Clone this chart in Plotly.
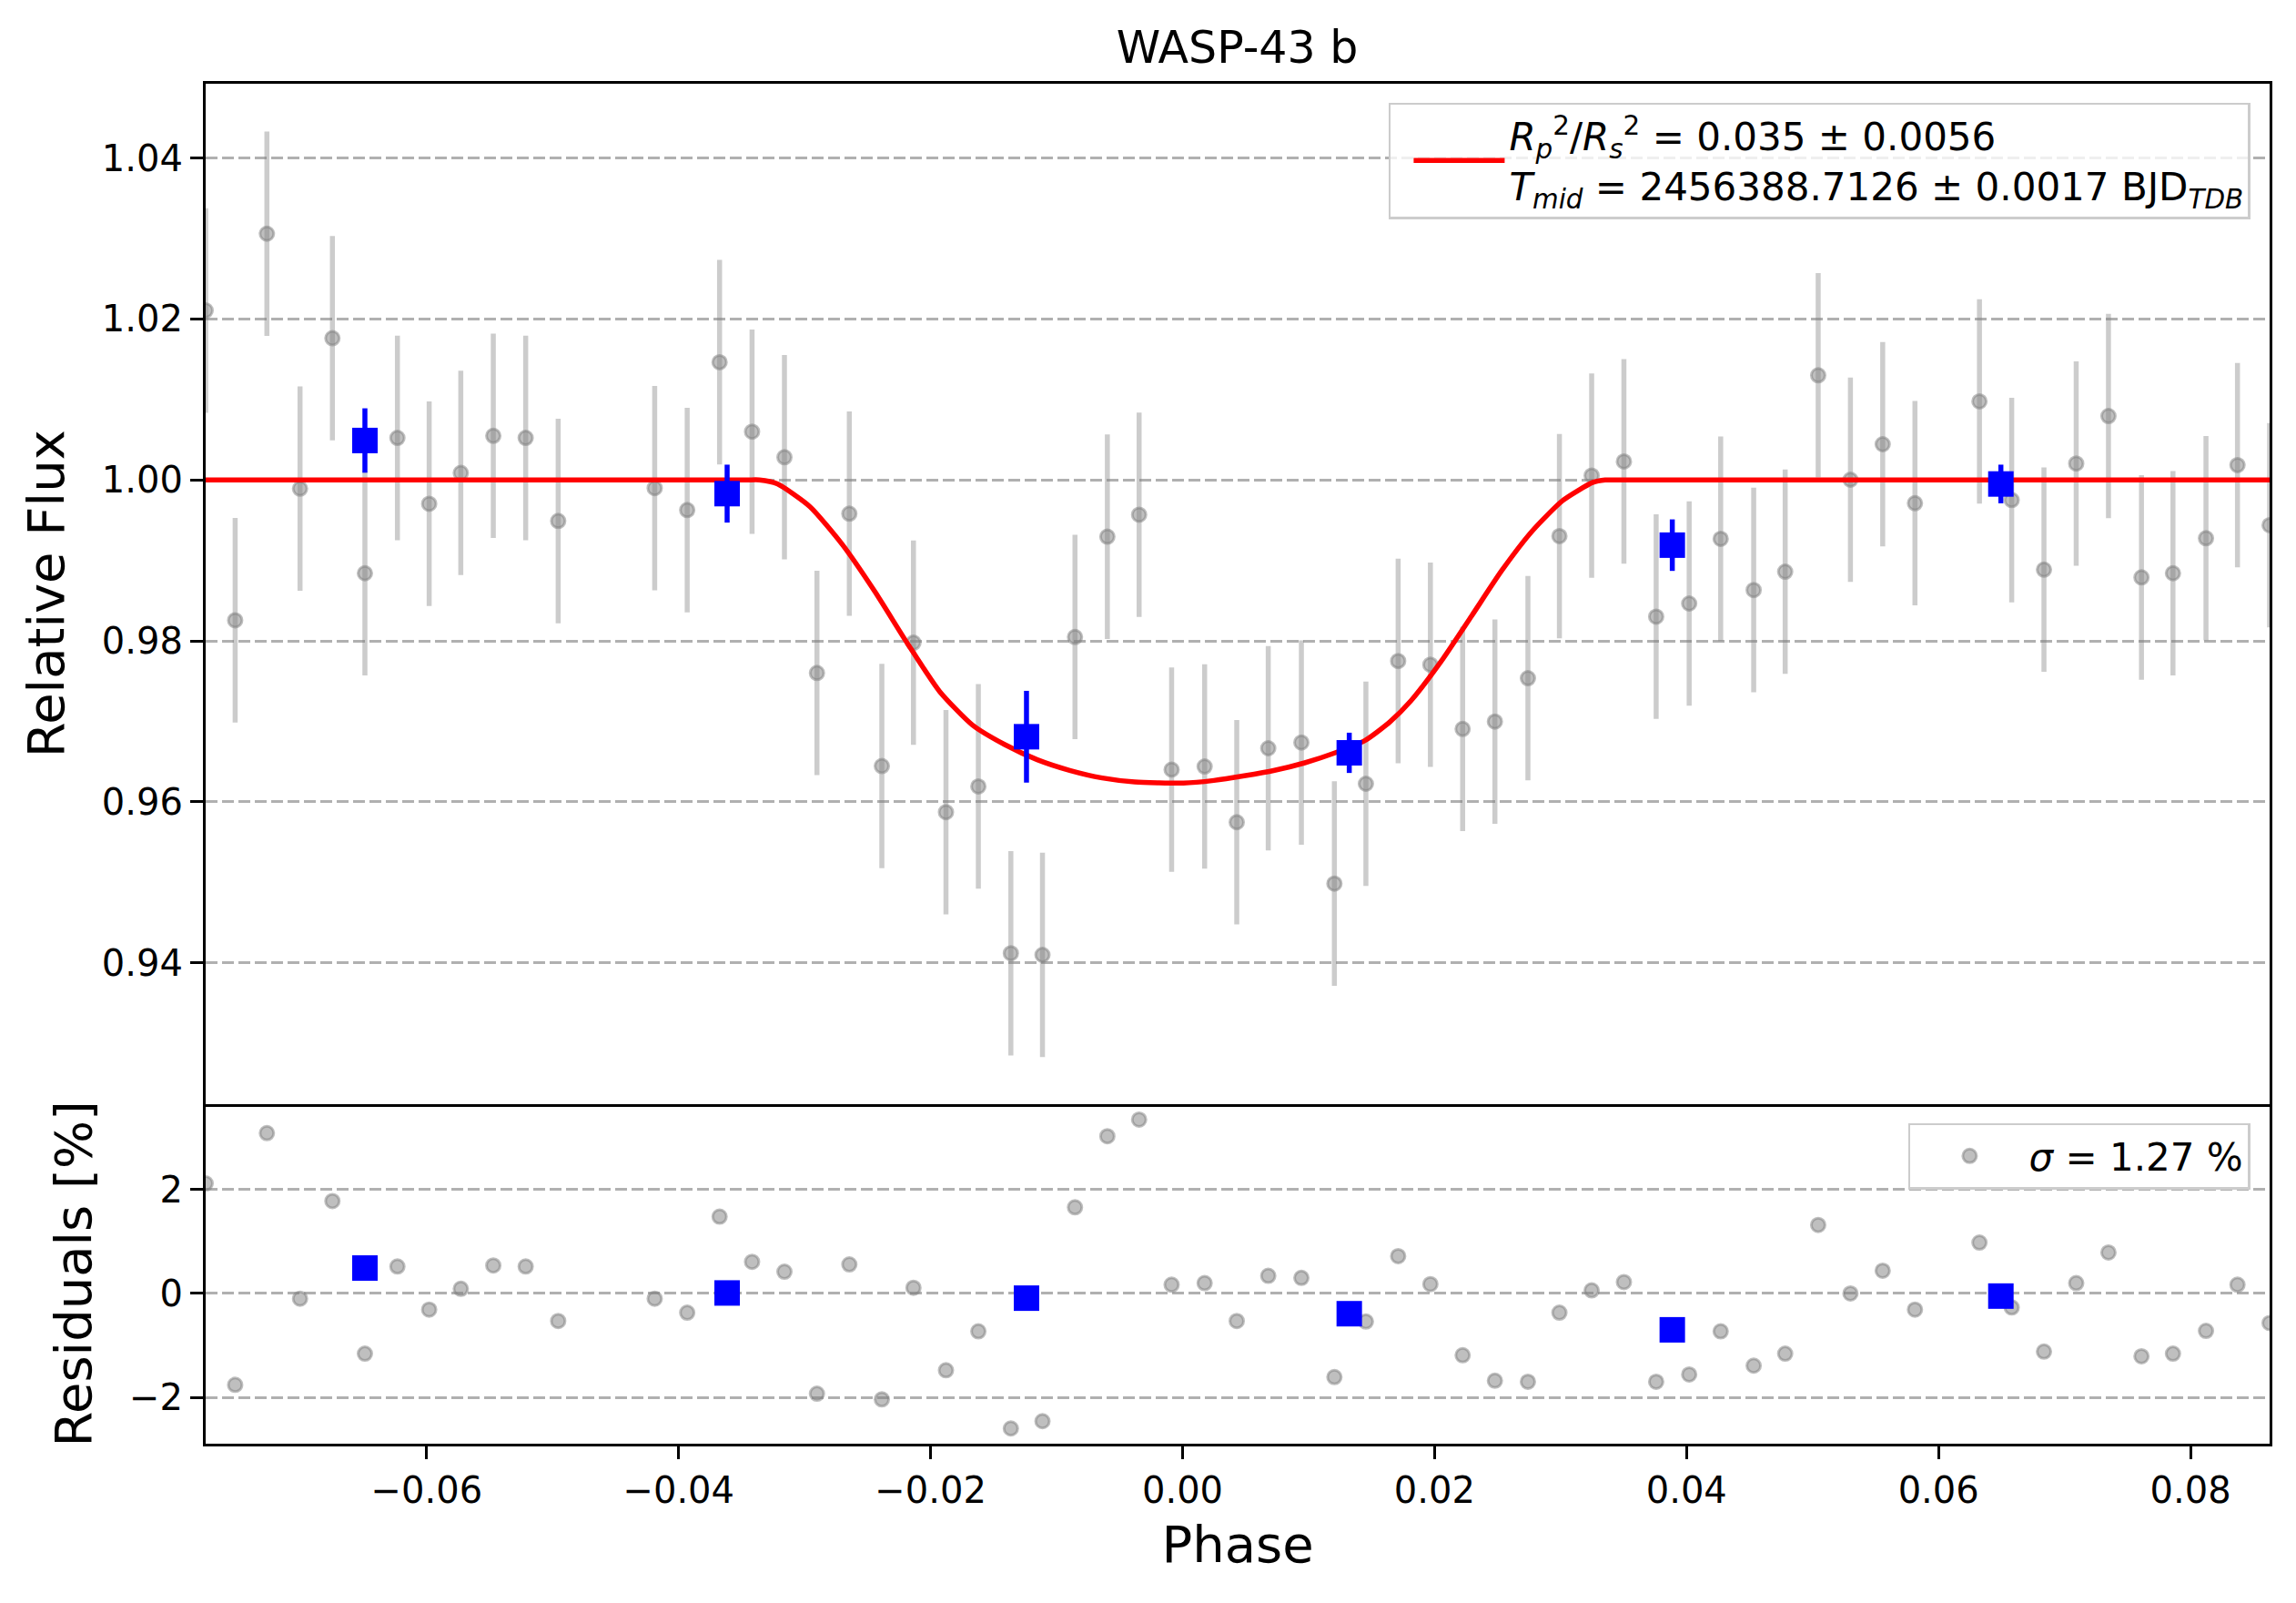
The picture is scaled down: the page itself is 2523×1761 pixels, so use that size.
"""WASP-43 b phase-folded light curve with binned points and residuals."""

import plotly.graph_objects as go
from plotly.subplots import make_subplots

# --- Unbinned data (phase, relative flux, residual in %) ---
phase = [
    -0.07754, -0.07520, -0.07268, -0.07005, -0.06748, -0.06490, -0.06232, -0.05980,
    -0.05729, -0.05471, -0.05214, -0.04956, -0.04190, -0.03932, -0.03675, -0.03417,
    -0.03160, -0.02902, -0.02645, -0.02387, -0.02136, -0.01878, -0.01621, -0.01363,
    -0.01112, -0.00854, -0.00597, -0.00345, -0.00087, 0.00175, 0.00430, 0.00680,
    0.00943, 0.01205, 0.01455, 0.01711, 0.01967, 0.02223, 0.02479, 0.02741,
    0.02991, 0.03247, 0.03503, 0.03759, 0.04021, 0.04271, 0.04533, 0.04783,
    0.05045, 0.05301, 0.05557, 0.05813, 0.06325, 0.06581, 0.06837, 0.07093,
    0.07349, 0.07611, 0.07861, 0.08123, 0.08373, 0.08628,
]
flux = [
    1.02105, 0.98257, 1.03059, 0.99892, 1.01761, 0.98841, 1.00522, 0.99704,
    1.00087, 1.00548, 1.00522, 0.99490, 0.99899, 0.99626, 1.01463, 1.00600,
    1.00282, 0.97602, 0.99581, 0.96446, 0.97978, 0.95873, 0.96193, 0.94120,
    0.94100, 0.98049, 0.99295, 0.99568, 0.96401, 0.96440, 0.95748, 0.96667,
    0.96738, 0.94986, 0.96226, 0.97751, 0.97705, 0.96907, 0.96998, 0.97537,
    0.99302, 1.00054, 1.00230, 0.98302, 0.98465, 0.99269, 0.98633, 0.98860,
    1.01300, 1.00003, 1.00444, 0.99711, 1.00976, 0.99750, 0.98886, 1.00204,
    1.00794, 0.98789, 0.98841, 0.99276, 1.00184, 0.99438,
]
flux_err = [
    0.0127, 0.0127, 0.0127, 0.0127, 0.0127, 0.0127, 0.0127, 0.0127,
    0.0127, 0.0127, 0.0127, 0.0127, 0.0127, 0.0127, 0.0127, 0.0127,
    0.0127, 0.0127, 0.0127, 0.0127, 0.0127, 0.0127, 0.0127, 0.0127,
    0.0127, 0.0127, 0.0127, 0.0127, 0.0127, 0.0127, 0.0127, 0.0127,
    0.0127, 0.0127, 0.0127, 0.0127, 0.0127, 0.0127, 0.0127, 0.0127,
    0.0127, 0.0127, 0.0127, 0.0127, 0.0127, 0.0127, 0.0127, 0.0127,
    0.0127, 0.0127, 0.0127, 0.0127, 0.0127, 0.0127, 0.0127, 0.0127,
    0.0127, 0.0127, 0.0127, 0.0127, 0.0127, 0.0127,
]
residual = [
    2.12, -1.76, 3.09, -0.10, 1.78, -1.16, 0.52, -0.31,
    0.09, 0.54, 0.52, -0.53, -0.10, -0.37, 1.48, 0.61,
    0.42, -1.93, 0.56, -2.04, 0.11, -1.48, -0.73, -2.60,
    -2.46, 1.66, 3.03, 3.35, 0.17, 0.20, -0.53, 0.34,
    0.30, -1.61, -0.54, 0.72, 0.18, -1.19, -1.68, -1.70,
    -0.37, 0.06, 0.22, -1.70, -1.56, -0.73, -1.39, -1.16,
    1.32, 0.00, 0.44, -0.31, 0.98, -0.27, -1.12, 0.20,
    0.79, -1.21, -1.16, -0.72, 0.17, -0.57,
]

# --- Binned data ---
bin_phase = [-0.06490, -0.03615, -0.01239, 0.01323, 0.03887, 0.06495]
bin_flux = [1.0049, 0.9983, 0.9681, 0.9661, 0.9919, 0.9995]
bin_err = [0.0040, 0.0036, 0.0057, 0.0025, 0.0032, 0.0024]
bin_resid = [0.49, 0.01, -0.09, -0.39, -0.70, -0.05]

# --- Transit model ---
model_phase = [
    -0.07754, -0.03460, -0.03359, -0.03217, -0.02959, -0.02701, -0.02443, -0.02186,
    -0.01928, -0.01669, -0.01411, -0.01153, -0.00896, -0.00638, -0.00380,
    0.00007, 0.00248, 0.00489, 0.00730, 0.00970, 0.01211, 0.01452, 0.01645,
    0.01813, 0.02053, 0.02295, 0.02535, 0.02776, 0.03017, 0.03257, 0.03354,
    0.03460, 0.08628,
]
model_flux = [
    1.0, 1.0, 1.0, 0.99951, 0.99669, 0.99198, 0.98614, 0.97974,
    0.97371, 0.96957, 0.96712, 0.96524, 0.96392, 0.96298, 0.96249,
    0.96234, 0.96267, 0.96324, 0.96392, 0.96486, 0.96610, 0.96768, 0.96994,
    0.97258, 0.97748, 0.98313, 0.98878, 0.99367, 0.99744, 0.99970, 1.0,
    1.0, 1.0,
]

depth_label = (
    "<i>R</i><sub><i>p</i></sub><sup>2</sup>/<i>R</i><sub><i>s</i></sub><sup>2</sup>"
    " = 0.035 ± 0.0056<br>"
    "<i>T</i><sub><i>mid</i></sub> = 2456388.7126 ± 0.0017 BJD<sub><i>TDB</i></sub>"
)
sigma_label = "<i>σ</i> = 1.27 %"

GRAY_PT = "rgba(128,128,128,0.5)"
GRAY_BAR = "rgba(128,128,128,0.4)"
GRID = "#b0b0b0"
FONT = "DejaVu Sans"

fig = make_subplots(
    rows=2, cols=1,
    shared_xaxes=True,
    vertical_spacing=0,
    row_heights=[0.75, 0.25],
)

# --- Top panel ---
fig.add_trace(
    go.Scatter(
        x=phase, y=flux,
        mode="markers",
        marker=dict(size=15, color=GRAY_PT, line=dict(width=3, color=GRAY_PT)),
        error_y=dict(type="data", array=flux_err, color=GRAY_BAR, thickness=5.5, width=0),
        showlegend=False,
    ),
    row=1, col=1,
)
fig.add_trace(
    go.Scatter(
        x=model_phase, y=model_flux,
        mode="lines",
        line=dict(color="#ff0000", width=5.5, shape="spline", smoothing=0.6),
        name=depth_label,
        legend="legend",
    ),
    row=1, col=1,
)
fig.add_trace(
    go.Scatter(
        x=bin_phase, y=bin_flux,
        mode="markers",
        marker=dict(symbol="square", size=28, color="#0000ff", line=dict(width=0)),
        error_y=dict(type="data", array=bin_err, color="#0000ff", thickness=5.5, width=0),
        showlegend=False,
    ),
    row=1, col=1,
)

# --- Residual panel ---
fig.add_trace(
    go.Scatter(
        x=phase, y=residual,
        mode="markers",
        marker=dict(size=15, color=GRAY_PT, line=dict(width=3, color=GRAY_PT)),
        name=sigma_label,
        legend="legend2",
    ),
    row=2, col=1,
)
fig.add_trace(
    go.Scatter(
        x=bin_phase, y=bin_resid,
        mode="markers",
        marker=dict(symbol="square", size=28, color="#0000ff", line=dict(width=0)),
        showlegend=False,
    ),
    row=2, col=1,
)

axis_common = dict(
    showline=True, linecolor="black", linewidth=3.2,
    ticks="outside", ticklen=14, tickwidth=3.2, tickcolor="black",
    tickfont=dict(family=FONT, size=40, color="black"),
    zeroline=False,
)

fig.update_xaxes(**axis_common, showgrid=False, range=[min(phase), max(phase)])
# top panel's x line draws both its bottom (shared border) and its top
fig.update_xaxes(ticks="", showticklabels=False, mirror=True, row=1, col=1)
fig.update_xaxes(
    mirror=False,
    tickvals=[-0.06, -0.04, -0.02, 0.0, 0.02, 0.04, 0.06, 0.08],
    tickformat=".2f",
    title=dict(text="Phase", font=dict(family=FONT, size=56, color="black"), standoff=18),
    row=2, col=1,
)
fig.update_yaxes(**axis_common, mirror=True, showgrid=True, gridcolor=GRID,
                 gridwidth=3.2, griddash="13px,5px")
fig.update_yaxes(
    range=[0.92251, 1.04922],
    tickvals=[0.94, 0.96, 0.98, 1.00, 1.02, 1.04],
    tickformat=".2f",
    title=dict(text="Relative Flux", font=dict(family=FONT, size=56, color="black"), standoff=24),
    row=1, col=1,
)
fig.update_yaxes(
    range=[-2.894, 3.656],
    tickvals=[-2, 0, 2],
    tickformat="d",
    title=dict(text="Residuals [%]", font=dict(family=FONT, size=56, color="black"), standoff=24),
    row=2, col=1,
)

legend_common = dict(
    bgcolor="rgba(255,255,255,0.8)",
    bordercolor="#cccccc",
    borderwidth=2.5,
    font=dict(family=FONT, size=42, color="black"),
    xanchor="right", yanchor="top",
    x=0.9907,
)

# page body has an 8px margin, so the figure is offset to compensate
fig.update_layout(
    width=2523, height=1761,
    margin=dict(l=218, r=37, t=84, b=183),
    plot_bgcolor="white",
    paper_bgcolor="white",
    font=dict(family=FONT, color="black"),
    title=dict(
        text="WASP-43 b",
        font=dict(family=FONT, size=49, color="black"),
        x=0.5357, xanchor="center",
        y=0.9753, yanchor="middle",
    ),
    legend=dict(**legend_common, y=0.9861, indentation=20, itemwidth=100),
    legend2=dict(**legend_common, y=0.2359, indentation=0, itemwidth=120),
)

fig.write_html("out.html")
